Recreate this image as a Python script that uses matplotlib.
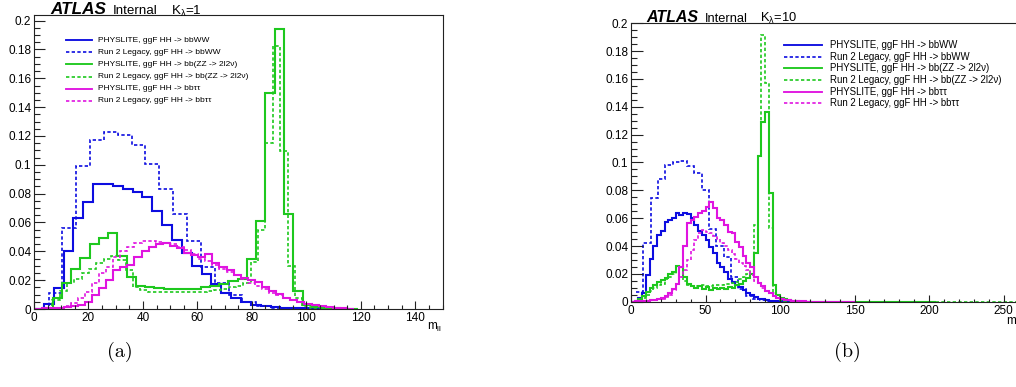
import numpy as np
import matplotlib
matplotlib.use("Agg")
import matplotlib.pyplot as plt
from matplotlib.lines import Line2D
from matplotlib.ticker import MultipleLocator, FuncFormatter

plt.rcParams['font.family'] = ['Liberation Sans', 'DejaVu Sans']
plt.rcParams['mathtext.fontset'] = 'custom'
plt.rcParams['mathtext.rm'] = 'Liberation Sans'
plt.rcParams['mathtext.it'] = 'Liberation Sans:italic'
plt.rcParams['mathtext.default'] = 'regular'

W, H = 1016, 387

# ---------------- data: panel (a), K_lambda = 1 ----------------
a_blue_solid_start, a_blue_solid_width = 0.0, 3.62
a_blue_solid = [0, 0.0032, 0.0143, 0.040, 0.063, 0.0745, 0.087, 0.0866, 0.0855, 0.083,
                0.081, 0.0775, 0.068, 0.058, 0.048, 0.039, 0.030, 0.024, 0.0173, 0.011,
                0.0079, 0.005, 0.003, 0.0022, 0.0015, 0.001, 0.0006, 0.0004, 0.0002, 0.0001, 0, 0]

a_blue_dot_start, a_blue_dot_width = 0.3, 5.08
a_blue_dot = [0, 0.011, 0.056, 0.099, 0.117, 0.1225, 0.1205, 0.1135, 0.1005, 0.083,
              0.066, 0.047, 0.029, 0.018, 0.010, 0.005, 0.002, 0.001, 0.0005, 0.0002, 0, 0]

a_green_solid_start, a_green_solid_width = 0.0, 3.4
a_green_solid = [0, 0.0008, 0.0074, 0.018, 0.028, 0.0356, 0.0449, 0.049, 0.053, 0.0368,
                 0.022, 0.0162, 0.015, 0.0143, 0.0136, 0.0136, 0.0138, 0.0142, 0.015, 0.016,
                 0.017, 0.0194, 0.0206, 0.0345, 0.0613, 0.150, 0.194, 0.0657, 0.0125, 0.003,
                 0.0012, 0.0008, 0.0004, 0.0002, 0]

a_green_dot_start, a_green_dot_width = 1.3, 2.7
a_green_dot = [0, 0.001, 0.006, 0.0125, 0.018, 0.0206, 0.025, 0.028, 0.0317, 0.0345,
               0.037, 0.034, 0.027, 0.0155, 0.013, 0.0118, 0.0117, 0.0116, 0.0116, 0.0117,
               0.0118, 0.0119, 0.012, 0.0125, 0.013, 0.014, 0.015, 0.016, 0.018, 0.0328,
               0.0548, 0.1154, 0.1824, 0.1096, 0.030, 0.0074, 0.002, 0.001, 0.0005, 0.0002, 0]

a_mag_solid_start, a_mag_solid_width = 0.5, 2.6
a_mag_solid = [0.0003, 0.0005, 0.0007, 0.001, 0.0013, 0.0018, 0.0028, 0.005, 0.0097, 0.0143,
               0.020, 0.027, 0.029, 0.0305, 0.036, 0.040, 0.043, 0.0449, 0.046, 0.0437,
               0.042, 0.039, 0.0375, 0.0363, 0.038, 0.0317, 0.029, 0.027, 0.0235, 0.0217,
               0.020, 0.0185, 0.0155, 0.0125, 0.0102, 0.0079, 0.0062, 0.0046, 0.0035, 0.0025,
               0.0018, 0.0012, 0.0008, 0.0005, 0.0003]

a_mag_dot_start, a_mag_dot_width = 0.5, 2.6
a_mag_dot = [0.0003, 0.0005, 0.0007, 0.001, 0.002, 0.0044, 0.0074, 0.012, 0.0178, 0.0247,
             0.029, 0.036, 0.040, 0.043, 0.046, 0.047, 0.047, 0.0465, 0.046, 0.045,
             0.043, 0.041, 0.038, 0.035, 0.033, 0.0305, 0.028, 0.026, 0.0236, 0.0206,
             0.018, 0.016, 0.0136, 0.0113, 0.0097, 0.0079, 0.0062, 0.0049, 0.0037, 0.0027,
             0.0019, 0.0013, 0.0008, 0.0005, 0.0003]

# ---------------- data: panel (b), K_lambda = 10 ----------------
b_blue_solid_start, b_blue_solid_width = 0.0, 2.5
b_blue_solid = [0, 0, 0.0024, 0.006, 0.019, 0.031, 0.040, 0.048, 0.051, 0.0575,
                0.059, 0.060, 0.0634, 0.062, 0.064, 0.063, 0.060, 0.055, 0.051, 0.048,
                0.044, 0.039, 0.035, 0.028, 0.025, 0.021, 0.0165, 0.014, 0.012, 0.0102,
                0.0085, 0.0065, 0.0048, 0.0032, 0.0022, 0.0016, 0.0011, 0.0007, 0.0005, 0.0003,
                0.0002, 0.0001, 0, 0, 0, 0, 0, 0]

b_blue_dot_start, b_blue_dot_width = 3.4, 4.9
b_blue_dot = [0.007, 0.042, 0.0743, 0.088, 0.098, 0.1003, 0.101, 0.0975, 0.0922, 0.080,
              0.052, 0.040, 0.032, 0.018, 0.009, 0.004, 0.002, 0.001, 0.0005, 0, 0, 0]

b_green_solid_start, b_green_solid_width = 0.0, 2.5
b_green_solid = [0, 0.0005, 0.002, 0.004, 0.007, 0.010, 0.012, 0.014, 0.0155, 0.017,
                 0.020, 0.021, 0.026, 0.025, 0.018, 0.013, 0.011, 0.0095, 0.011, 0.0092,
                 0.0105, 0.0085, 0.0098, 0.0088, 0.010, 0.0092, 0.0105, 0.0098, 0.012, 0.013,
                 0.015, 0.017, 0.020, 0.035, 0.105, 0.129, 0.136, 0.078, 0.012, 0.005,
                 0.003, 0.002, 0.001, 0.0005, 0.0003] + [0] * 37

b_green_dot_start, b_green_dot_width = 0.0, 2.5
b_green_dot = [0, 0.0005, 0.002, 0.003, 0.005, 0.008, 0.010, 0.012, 0.013, 0.016,
               0.018, 0.020, 0.023, 0.021, 0.015, 0.012, 0.0115, 0.011, 0.0112, 0.0118,
               0.011, 0.0115, 0.012, 0.0118, 0.0122, 0.0125, 0.013, 0.0135, 0.014, 0.016,
               0.018, 0.020, 0.025, 0.055, 0.105, 0.1915, 0.157, 0.053, 0.006, 0.003,
               0.0015, 0.0008, 0.0004] + [0] * 78

b_mag_solid_start, b_mag_solid_width = 0.0, 2.5
b_mag_solid = [0, 0.0002, 0.0003, 0.0005, 0.0008, 0.001, 0.0015, 0.002, 0.0024, 0.004,
               0.006, 0.009, 0.0127, 0.025, 0.040, 0.0565, 0.059, 0.061, 0.0634, 0.065,
               0.068, 0.0717, 0.067, 0.060, 0.059, 0.055, 0.050, 0.049, 0.043, 0.0395,
               0.0325, 0.028, 0.0249, 0.018, 0.0132, 0.011, 0.008, 0.006, 0.004, 0.0029,
               0.002, 0.0015, 0.001, 0.0007, 0.0005, 0.0003, 0.0002, 0.0001] + [0] * 12

b_mag_dot_start, b_mag_dot_width = 0.0, 2.5
b_mag_dot = [0, 0.0002, 0.0003, 0.0005, 0.0008, 0.001, 0.0013, 0.0016, 0.002, 0.0035,
             0.0048, 0.0083, 0.013, 0.018, 0.0228, 0.030, 0.037, 0.0443, 0.0491, 0.0515,
             0.050, 0.049, 0.047, 0.045, 0.042, 0.040, 0.037, 0.034, 0.031, 0.028,
             0.026, 0.0227, 0.019, 0.015, 0.0132, 0.010, 0.0075, 0.006, 0.004, 0.003,
             0.002, 0.0015, 0.001, 0.0006, 0.0004, 0.0002, 0.0001] + [0] * 13

legend_labels = ["PHYSLITE, ggF HH -> bbWW",
                 "Run 2 Legacy, ggF HH -> bbWW",
                 "PHYSLITE, ggF HH -> bb(ZZ -> 2l2\u03bd)",
                 "Run 2 Legacy, ggF HH -> bb(ZZ -> 2l2\u03bd)",
                 "PHYSLITE, ggF HH -> bb\u03c4\u03c4",
                 "Run 2 Legacy, ggF HH -> bb\u03c4\u03c4"]

BLUE, GREEN, MAG = '#0d0de0', '#1ec81e', '#e014e0'
SOLID_LW = 1.5
DOT_LS = (0, (2.0, 1.4))
DOT_LW = 1.2


def fx(px):
    return px / W


def fy(py):
    return 1 - py / H


def make_axes(fig, left, right, top, bottom):
    return fig.add_axes([fx(left), fy(bottom), (right - left) / W, (bottom - top) / H])


fig = plt.figure(figsize=(W / 100, H / 100), dpi=100)

ax_a = make_axes(fig, 34, 442.5, 15.3, 309)
ax_b = make_axes(fig, 631, 1021.4, 22.7, 301.7)


def hist(ax, start, width, vals, color, solid):
    vals = np.asarray(vals, dtype=float)
    edges = start + width * np.arange(len(vals) + 1)
    if solid:
        ax.stairs(vals, edges, baseline=None, color=color, lw=SOLID_LW)
    else:
        ax.stairs(vals, edges, baseline=None, color=color, lw=DOT_LW, linestyle=DOT_LS)


series_a = [(a_blue_solid_start, a_blue_solid_width, a_blue_solid, BLUE, True),
            (a_blue_dot_start, a_blue_dot_width, a_blue_dot, BLUE, False),
            (a_green_solid_start, a_green_solid_width, a_green_solid, GREEN, True),
            (a_green_dot_start, a_green_dot_width, a_green_dot, GREEN, False),
            (a_mag_solid_start, a_mag_solid_width, a_mag_solid, MAG, True),
            (a_mag_dot_start, a_mag_dot_width, a_mag_dot, MAG, False)]
series_b = [(b_blue_solid_start, b_blue_solid_width, b_blue_solid, BLUE, True),
            (b_blue_dot_start, b_blue_dot_width, b_blue_dot, BLUE, False),
            (b_green_solid_start, b_green_solid_width, b_green_solid, GREEN, True),
            (b_green_dot_start, b_green_dot_width, b_green_dot, GREEN, False),
            (b_mag_solid_start, b_mag_solid_width, b_mag_solid, MAG, True),
            (b_mag_dot_start, b_mag_dot_width, b_mag_dot, MAG, False)]

for s in series_a:
    hist(ax_a, *s)
for s in series_b:
    hist(ax_b, *s)


def fmt(v, pos):
    v = round(v, 4)
    return '%g' % v


def style_axes(ax, xmax, ymax, xmaj, xmin, ymajlen, xmajlen):
    ax.set_xlim(0, xmax)
    ax.set_ylim(0, ymax)
    ax.xaxis.set_major_locator(MultipleLocator(xmaj))
    ax.xaxis.set_minor_locator(MultipleLocator(xmin))
    ax.yaxis.set_major_locator(MultipleLocator(0.02))
    ax.yaxis.set_minor_locator(MultipleLocator(0.005))
    ax.xaxis.set_major_formatter(FuncFormatter(fmt))
    ax.yaxis.set_major_formatter(FuncFormatter(fmt))
    ax.tick_params(axis='both', which='both', direction='in', top=False, right=False,
                   colors='#222222', labelcolor='black', labelsize=8.5, width=0.8)
    ax.tick_params(axis='y', which='major', length=ymajlen * 0.72, pad=2)
    ax.tick_params(axis='y', which='minor', length=ymajlen * 0.36)
    ax.tick_params(axis='x', which='major', length=xmajlen * 0.72, pad=2.5)
    ax.tick_params(axis='x', which='minor', length=xmajlen * 0.36)
    for sp in ax.spines.values():
        sp.set_linewidth(0.8)
        sp.set_color('#222222')


style_axes(ax_a, 150, 0.2037, 20, 5, 11, 8)
style_axes(ax_b, 262, 0.2004, 50, 10, 12, 7)


def legend(x0, x1, xt, rows, fs):
    styles = [(BLUE, True), (BLUE, False), (GREEN, True), (GREEN, False), (MAG, True), (MAG, False)]
    for (col, solid), y, lab in zip(styles, rows, legend_labels):
        if solid:
            ln = Line2D([fx(x0), fx(x1)], [fy(y), fy(y)], transform=fig.transFigure,
                        color=col, lw=SOLID_LW * 0.9)
        else:
            ln = Line2D([fx(x0), fx(x1)], [fy(y), fy(y)], transform=fig.transFigure,
                        color=col, lw=DOT_LW, linestyle=DOT_LS)
        fig.add_artist(ln)
        fig.text(fx(xt), fy(y), lab, fontsize=fs, va='center', ha='left', color='black')


legend(65.7, 92.0, 98.0, [40, 52.3, 64.3, 76.7, 89, 101], 6.0)
legend(784.3, 821.7, 830.0, [45, 56.7, 68.3, 80, 91.7, 103.3], 6.9)


def atlas(x_atlas, x_int, x_k, base, s1, s2, ktext):
    fig.text(fx(x_atlas), fy(base), 'ATLAS', fontsize=s1, fontweight='bold',
             fontstyle='italic', va='baseline', ha='left')
    fig.text(fx(x_int), fy(base), 'Internal', fontsize=s2, va='baseline', ha='left')
    fig.text(fx(x_k), fy(base), ktext, fontsize=s2, va='baseline', ha='left')


atlas(50.5, 112.7, 171, 14.5, 12.3, 9.6, r'K$_{\lambda}$=1')
atlas(646.5, 705, 760, 22.2, 11.5, 9.3, r'K$_{\lambda}$=10')

fig.text(fx(442.5), fy(329.5), r'm$_{\mathregular{ll}}$', fontsize=8.5, ha='right', va='baseline')
fig.text(fx(1021.4), fy(325.0), r'm$_{\mathregular{ll}}$', fontsize=8.5, ha='right', va='baseline')

fig.text(fx(120), fy(352), '(a)', fontsize=14.5, family='cmr10', ha='center', va='center')
fig.text(fx(847), fy(352), '(b)', fontsize=14.5, family='cmr10', ha='center', va='center')

fig.savefig('out.png', dpi=100)
